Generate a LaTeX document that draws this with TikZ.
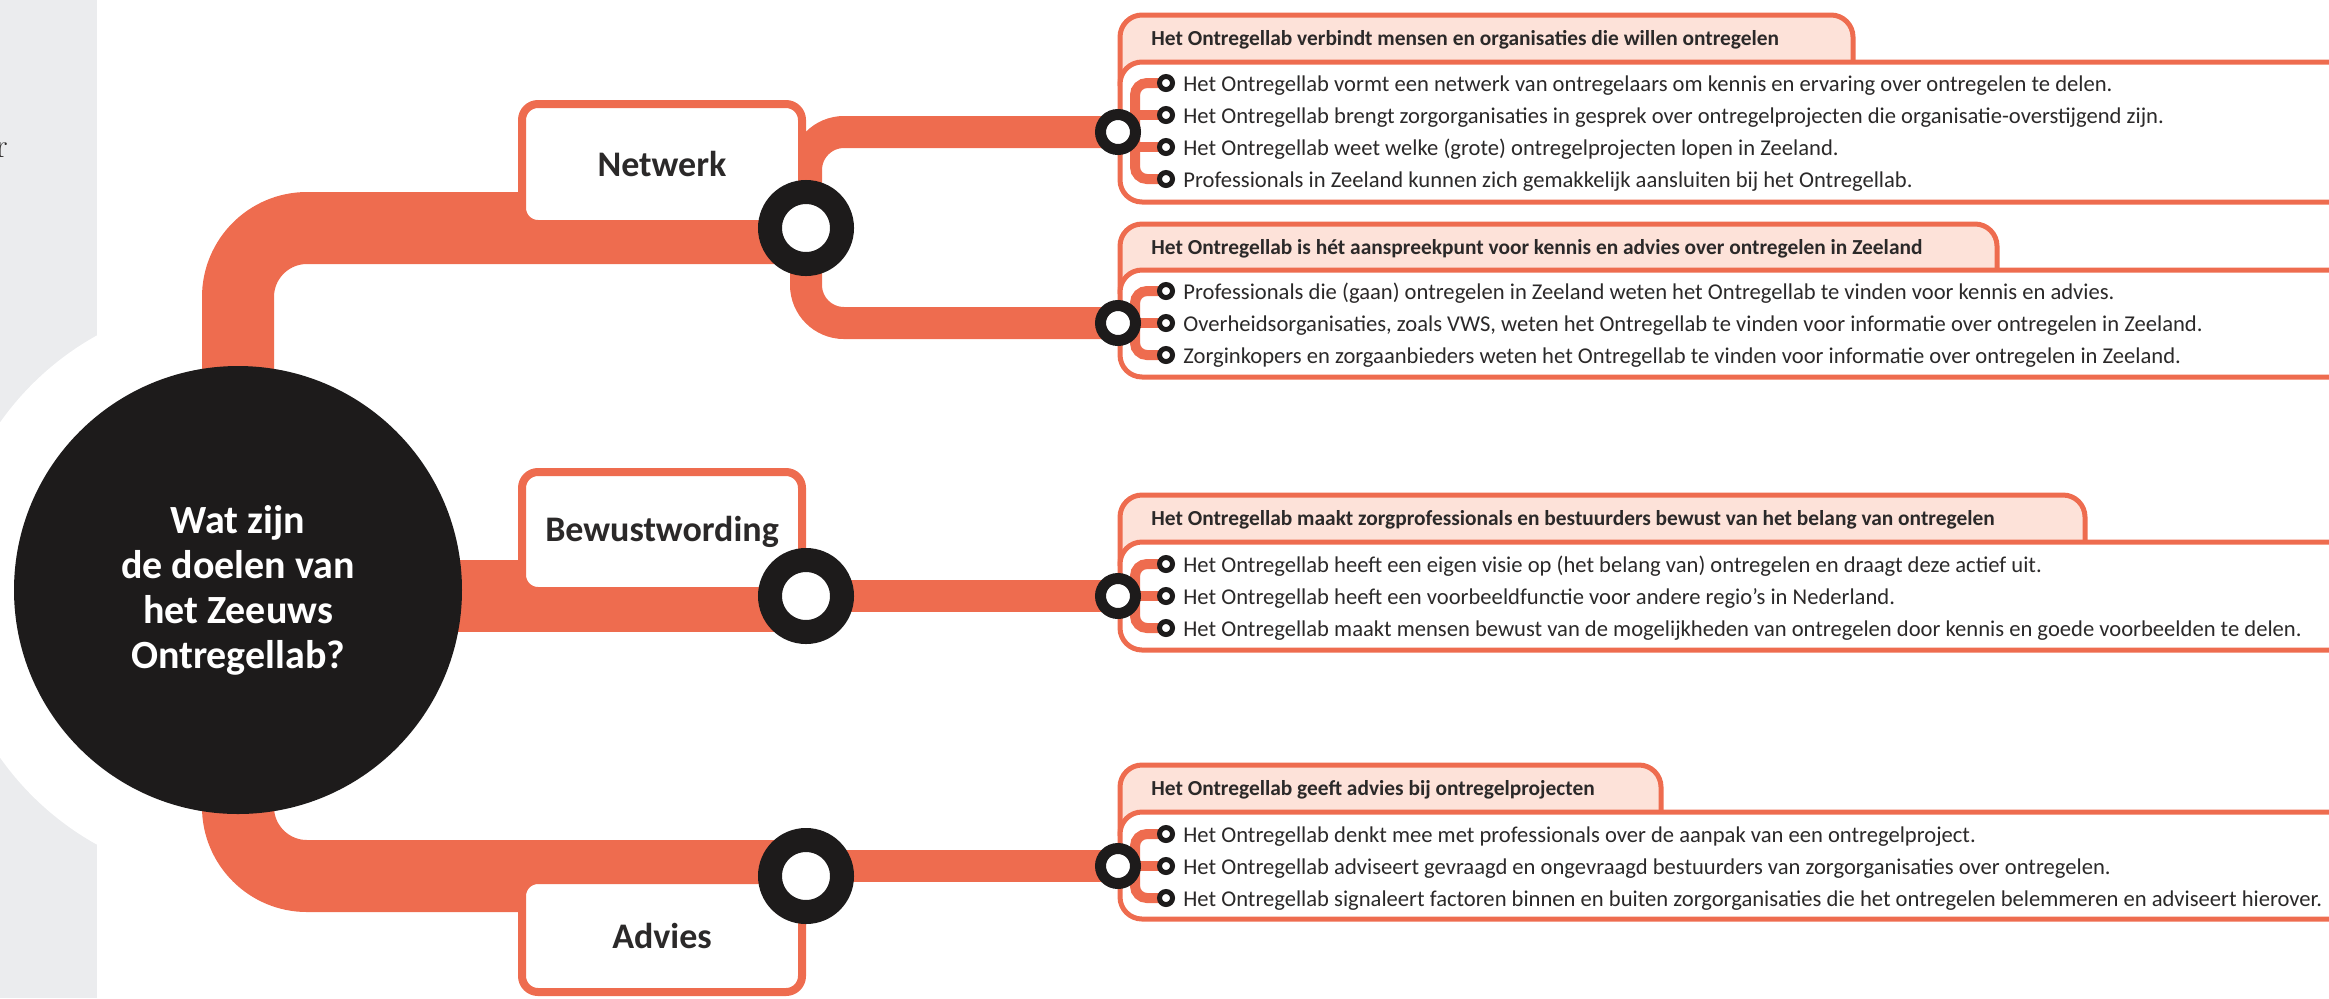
\documentclass[tikz,border=0pt]{standalone}
\usepackage{fontspec}
\setsansfont{Carlito}

\definecolor{labOrange}{RGB}{238,108,79}
\definecolor{labBlack}{RGB}{29,27,27}
\definecolor{labGrey}{RGB}{235,236,238}
\definecolor{labPink}{RGB}{253,226,217}
\definecolor{labText}{RGB}{43,41,41}

\pgfdeclarelayer{backdrop}
\pgfdeclarelayer{trunks}
\pgfdeclarelayer{twigs}
\pgfsetlayers{backdrop,trunks,twigs,main}

\tikzset{
  trunk/.style={labOrange, line width=36pt, rounded corners=34.5pt},
  branch/.style={labOrange, line width=16pt, rounded corners=19pt},
  twig/.style={labOrange, line width=5pt, rounded corners=6pt},
  hub/.style={circle, fill=labBlack, minimum size=224pt, inner sep=0pt, text=white, align=center,
    font=\sffamily\bfseries\fontsize{20}{22.5}\selectfont},
  hubring/.style={circle, draw=labBlack, line width=12pt, fill=white, minimum size=36pt, inner sep=0pt},
  boxring/.style={circle, draw=labBlack, line width=5.5pt, fill=white, minimum size=17.5pt, inner sep=0pt},
  bullet/.style={circle, draw=labBlack, line width=2.5pt, fill=white, minimum size=6.5pt, inner sep=0pt},
  themebox/.style={rectangle, draw=labOrange, line width=4pt, fill=white, rounded corners=8pt,
    minimum width=140pt, inner sep=0pt, text=labText, font=\sffamily\bfseries\fontsize{18}{20}\selectfont},
  tabbox/.style={draw=labOrange, fill=labPink, line width=2.5pt, rounded corners=11pt},
  bodybox/.style={draw=labOrange, fill=white, line width=2.5pt, rounded corners=11pt},
  headtext/.style={anchor=base west, inner sep=0pt, text=labText, font=\sffamily\bfseries\fontsize{10.7}{12}\selectfont},
  itemtext/.style={anchor=base west, inner sep=0pt, text=labText, font=\sffamily\fontsize{11.3}{13}\selectfont}
}

\begin{document}
\begin{tikzpicture}[x=0.5pt, y=-0.5pt]

% Fix the size of the picture (one unit is one pixel of the page)
\useasboundingbox (0,0) rectangle (2329,998);

% Draw the central question
\node[hub] (hub) at (238,590) {Wat zijn\\de doelen van\\het Zeeuws\\Ontregellab?};

% Draw the three theme boxes
\node[themebox, minimum height=60pt] (netwerk) at (662,164) {Netwerk};
\node[themebox, minimum height=59.5pt] (bewust) at (662,531.5) {Bewustwording};
\node[themebox, minimum height=56pt] (advies) at (662,936) {Advies};

% Draw the stops on the main lines
\node[hubring] (netring) at (806,228) {};
\node[hubring] (bewring) at (806,596) {};
\node[hubring] (advring) at (806,876) {};

% Draw the stops at the goal boxes
\node[boxring] (ring1) at (1118,132) {};
\node[boxring] (ring2) at (1118,323) {};
\node[boxring] (ring3) at (1118,596) {};
\node[boxring] (ring4) at (1118,866) {};

% Goal 1: bullets and texts
\node[headtext] (head1) at (1151,45) {Het Ontregellab verbindt mensen en organisaties die willen ontregelen};
\node[bullet] (b11) at (1166,83) {};
\node[bullet] (b12) at (1166,115) {};
\node[bullet] (b13) at (1166,147) {};
\node[bullet] (b14) at (1166,179) {};
\node[itemtext] (t11) at (1183,91) {Het Ontregellab vormt een netwerk van ontregelaars om kennis en ervaring over ontregelen te delen.};
\node[itemtext] (t12) at (1183,123) {Het Ontregellab brengt zorgorganisaties in gesprek over ontregelprojecten die organisatie-overstijgend zijn.};
\node[itemtext] (t13) at (1183,155) {Het Ontregellab weet welke (grote) ontregelprojecten lopen in Zeeland.};
\node[itemtext] (t14) at (1183,187) {Professionals in Zeeland kunnen zich gemakkelijk aansluiten bij het Ontregellab.};

% Goal 2: bullets and texts
\node[headtext] (head2) at (1151,254) {Het Ontregellab is hét aanspreekpunt voor kennis en advies over ontregelen in Zeeland};
\node[bullet] (b21) at (1166,291) {};
\node[bullet] (b22) at (1166,323) {};
\node[bullet] (b23) at (1166,355) {};
\node[itemtext] (t21) at (1183,299) {Professionals die (gaan) ontregelen in Zeeland weten het Ontregellab te vinden voor kennis en advies.};
\node[itemtext] (t22) at (1183,331) {Overheidsorganisaties, zoals VWS, weten het Ontregellab te vinden voor informatie over ontregelen in Zeeland.};
\node[itemtext] (t23) at (1183,363) {Zorginkopers en zorgaanbieders weten het Ontregellab te vinden voor informatie over ontregelen in Zeeland.};

% Goal 3: bullets and texts
\node[headtext] (head3) at (1151,525) {Het Ontregellab maakt zorgprofessionals en bestuurders bewust van het belang van ontregelen};
\node[bullet] (b31) at (1166,564) {};
\node[bullet] (b32) at (1166,596) {};
\node[bullet] (b33) at (1166,628) {};
\node[itemtext] (t31) at (1183,572) {Het Ontregellab heeft een eigen visie op (het belang van) ontregelen en draagt deze actief uit.};
\node[itemtext] (t32) at (1183,604) {Het Ontregellab heeft een voorbeeldfunctie voor andere regio’s in Nederland.};
\node[itemtext] (t33) at (1183,636) {Het Ontregellab maakt mensen bewust van de mogelijkheden van ontregelen door kennis en goede voorbeelden te delen.};

% Goal 4: bullets and texts
\node[headtext] (head4) at (1151,795) {Het Ontregellab geeft advies bij ontregelprojecten};
\node[bullet] (b41) at (1166,834) {};
\node[bullet] (b42) at (1166,866) {};
\node[bullet] (b43) at (1166,898) {};
\node[itemtext] (t41) at (1183,842) {Het Ontregellab denkt mee met professionals over de aanpak van een ontregelproject.};
\node[itemtext] (t42) at (1183,874) {Het Ontregellab adviseert gevraagd en ongevraagd bestuurders van zorgorganisaties over ontregelen.};
\node[itemtext] (t43) at (1183,906) {Het Ontregellab signaleert factoren binnen en buiten zorgorganisaties die het ontregelen belemmeren en adviseert hierover.};

% Letter of the page text at the left edge
\node[anchor=base east, inner sep=0pt, text=labText, font=\fontsize{17}{19}\selectfont] (edgeletter) at (8,157) {r};

% Grey page strip with the white halo round the question
\begin{pgfonlayer}{backdrop}
\fill[labGrey] (0,0) rectangle (97,998);
\fill[white] (hub.center) circle[radius=145.5pt];
\end{pgfonlayer}

% Main lines, branches and the goal boxes
\begin{pgfonlayer}{trunks}
\draw[trunk] (hub.center) |- (netring.center);
\draw[trunk] (hub.center |- bewring.center) -- (bewring.center);
\draw[trunk] (hub.center) |- (advring.center);

\draw[branch] (netring.center) |- (ring1.center);
\draw[branch] (netring.center) |- (ring2.center);
\draw[branch] (bewring.center) -- (ring3.center);
\draw[branch] (advring.center |- ring4.center) -- (ring4.center);

% Goal box 1
\filldraw[tabbox] (1120,86) -- (1120,15) -- (1853,15) -- (1853,62);
\filldraw[bodybox] (2340,62) -- (1120,62) -- (1120,202) -- (2340,202);
% Goal box 2
\filldraw[tabbox] (1120,294) -- (1120,224) -- (1997,224) -- (1997,270);
\filldraw[bodybox] (2340,270) -- (1120,270) -- (1120,377) -- (2340,377);
% Goal box 3
\filldraw[tabbox] (1120,566) -- (1120,495) -- (2085,495) -- (2085,542);
\filldraw[bodybox] (2340,542) -- (1120,542) -- (1120,650) -- (2340,650);
% Goal box 4
\filldraw[tabbox] (1120,836) -- (1120,765) -- (1661,765) -- (1661,812);
\filldraw[bodybox] (2340,812) -- (1120,812) -- (1120,919) -- (2340,919);
\end{pgfonlayer}

% Thin lines from each stop to its bullets
\coordinate (spine1) at (1135,132);
\coordinate (spine2) at (1135,323);
\coordinate (spine3) at (1135,596);
\coordinate (spine4) at (1135,866);
\begin{pgfonlayer}{twigs}
\draw[twig] (b11.center) -| (spine1) |- (b14.center);
\draw[twig] (ring1.center) -- (spine1);
\draw[twig] (spine1 |- b12.center) -- (b12.center);
\draw[twig] (spine1 |- b13.center) -- (b13.center);

\draw[twig] (b21.center) -| (spine2) |- (b23.center);
\draw[twig] (ring2.center) -- (b22.center);

\draw[twig] (b31.center) -| (spine3) |- (b33.center);
\draw[twig] (ring3.center) -- (b32.center);

\draw[twig] (b41.center) -| (spine4) |- (b43.center);
\draw[twig] (ring4.center) -- (b42.center);
\end{pgfonlayer}

\end{tikzpicture}
\end{document}
